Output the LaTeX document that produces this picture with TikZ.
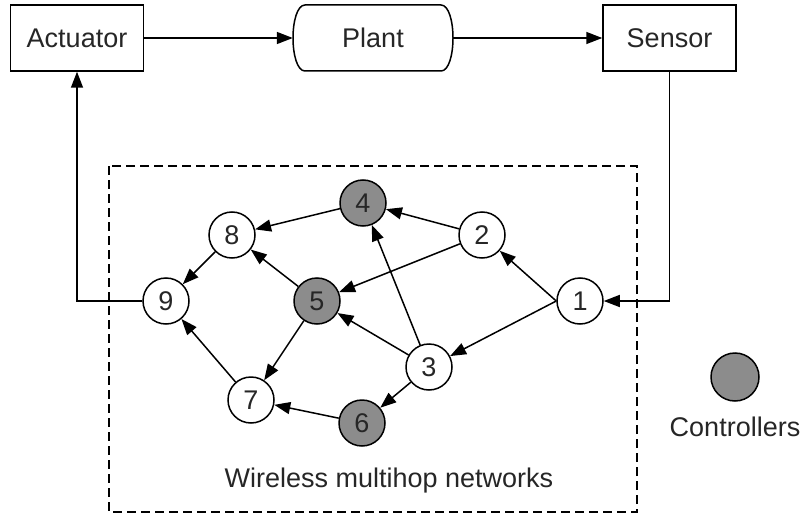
\documentclass[tikz,border=0pt]{standalone}
\usepackage{fontspec}
\setmainfont{Liberation Sans}
\usetikzlibrary{arrows.meta}
\definecolor{txt}{RGB}{38,38,38}
\definecolor{ctrl}{RGB}{140,140,140}
\begin{document}
\begin{tikzpicture}[x=1pt,y=-1pt,
  every node/.style={text=txt},
  lbl/.style={font=\fontsize{27}{30}\selectfont},
  boxnode/.style={draw,line width=1.5pt,minimum width=133pt,minimum height=66pt,inner sep=0pt,font=\fontsize{27}{30}\selectfont},
  netnode/.style={circle,draw,line width=1.5pt,minimum size=46pt,inner sep=0pt,fill=white,font=\fontsize{27}{30}\selectfont},
  ctrlnode/.style={netnode,fill=ctrl},
  link/.style={line width=1.5pt,-{Triangle[length=16pt,width=12pt]}},
  area/.style={line width=1.4pt,dash pattern=on 9pt off 5pt}
]
\useasboundingbox (0,0) rectangle (805,516);
% top row
\node[boxnode] (act) at (77,38) {Actuator};
\node[lbl,minimum width=160pt,minimum height=66pt,inner sep=0pt] (plant) at (373,38) {Plant};
\draw[line width=1.5pt] (305,5) -- (441,5) .. controls (449,5) and (453,22) .. (453,38)
  .. controls (453,54) and (449,71) .. (441,71) -- (305,71)
  .. controls (297,71) and (293,54) .. (293,38) .. controls (293,22) and (297,5) .. (305,5) -- cycle;
\node[boxnode] (sen) at (669.5,38) {Sensor};
% network area
\draw[area] (109,166) rectangle (637,512);
\node[lbl] (wmn) at (389,481) {Wireless multihop networks};
% nodes
\node[netnode] (n1) at (580,301) {1};
\node[netnode] (n2) at (482,235) {2};
\node[netnode] (n3) at (429,367) {3};
\node[ctrlnode] (n4) at (363,203) {4};
\node[ctrlnode] (n5) at (317,301) {5};
\node[ctrlnode] (n6) at (362,423) {6};
\node[netnode] (n7) at (251,400) {7};
\node[netnode] (n8) at (232,235) {8};
\node[netnode] (n9) at (166,301) {9};
% legend
\node[ctrlnode,minimum size=48pt] (leg) at (735,377) {};
\node[lbl] (legtxt) at (735,427) {Controllers};
% top connectors
\draw[link] (act) -- (plant);
\draw[link] (plant) -- (sen);
\draw[link] (sen.south) |- (n1.east);
\draw[link] (n9.west) -| (act.south);
% network links
\draw[link] (n1.west) -- (n2);
\draw[link] (n1.west) -- (n3);
\draw[link] (n2) -- (n4);
\draw[link] (n2) -- (n5);
\draw[link] (n3) -- (n4);
\draw[link] (n3) -- (n5);
\draw[link] (n3) -- (n6);
\draw[link] (n4) -- (n8);
\draw[link] (n5) -- (n8);
\draw[link] (n5) -- (n7);
\draw[link] (n6) -- (n7);
\draw[link] (n8) -- (n9);
\draw[link] (n7) -- (n9);
\end{tikzpicture}
\end{document}
